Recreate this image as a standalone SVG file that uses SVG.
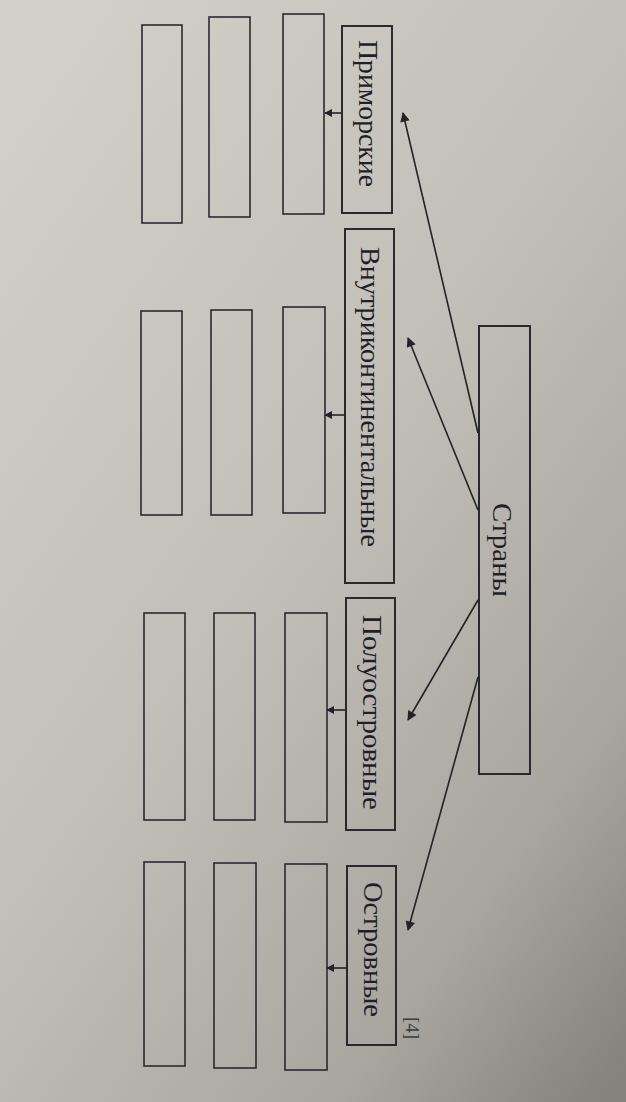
<svg xmlns="http://www.w3.org/2000/svg" width="626" height="1102" viewBox="0 0 626 1102">
  <defs>
    <linearGradient id="bg" x1="0.15" y1="0" x2="0.95" y2="1">
      <stop offset="0" stop-color="#d2cfc8"/>
      <stop offset="0.45" stop-color="#c2bfb8"/>
      <stop offset="0.8" stop-color="#a9a6a0"/>
      <stop offset="1" stop-color="#86837f"/>
    </linearGradient>
    <marker id="ah" viewBox="0 0 10 10" refX="9" refY="5" markerWidth="7" markerHeight="6" markerUnits="strokeWidth" orient="auto">
      <path d="M0,0 L10,5 L0,10 z" fill="#222228"/>
    </marker>
    <marker id="sh" viewBox="0 0 10 10" refX="9" refY="5" markerWidth="5" markerHeight="5" markerUnits="strokeWidth" orient="auto">
      <path d="M0,0 L10,5 L0,10 z" fill="#222228"/>
    </marker>
  </defs>
  <style>
    .box { fill: none; stroke: #222228; stroke-width: 1.9; }
    .ebox { fill: none; stroke: #2a2a30; stroke-width: 1.6; }
    .lbl { font-family: "Liberation Serif", "Times New Roman", serif; font-size: 27px; fill: #1f1f28; text-anchor: middle; }
    .conn { stroke: #222228; stroke-width: 1.6; fill: none; marker-end: url(#ah); }
    .sconn { stroke: #222228; stroke-width: 1.6; fill: none; marker-end: url(#sh); }
  </style>
  <rect x="0" y="0" width="626" height="1102" fill="url(#bg)"/>

  <g id="connectors">
    <line class="conn" x1="478" y1="433" x2="403" y2="113"/>
    <line class="conn" x1="478" y1="510" x2="408" y2="338"/>
    <line class="conn" x1="478" y1="600" x2="408" y2="720"/>
    <line class="conn" x1="478" y1="677" x2="408" y2="930"/>
    <line class="sconn" x1="342" y1="113" x2="325" y2="113"/>
    <line class="sconn" x1="345" y1="415" x2="325" y2="415"/>
    <line class="sconn" x1="346" y1="710" x2="327" y2="710"/>
    <line class="sconn" x1="347" y1="968" x2="327" y2="968"/>
  </g>

  <g id="node-strany">
    <rect class="box" x="479" y="326" width="51" height="448"/>
    <text class="lbl" transform="translate(493,550) rotate(90)" textLength="94" lengthAdjust="spacingAndGlyphs">Страны</text>
  </g>
  <g id="node-primorskie">
    <rect class="box" x="342" y="26" width="50" height="187"/>
    <text class="lbl" transform="translate(359,113.5) rotate(90)" textLength="147" lengthAdjust="spacingAndGlyphs">Приморские</text>
  </g>
  <g id="node-vnutri">
    <rect class="box" x="345" y="229" width="49" height="354"/>
    <text class="lbl" transform="translate(361,397) rotate(90)" textLength="300" lengthAdjust="spacingAndGlyphs">Внутриконтинентальные</text>
  </g>
  <g id="node-poluostr">
    <rect class="box" x="346" y="598" width="49" height="232"/>
    <text class="lbl" transform="translate(363,712.5) rotate(90)" textLength="195" lengthAdjust="spacingAndGlyphs">Полуостровные</text>
  </g>
  <g id="node-ostrov">
    <rect class="box" x="347" y="866" width="49" height="179"/>
    <text class="lbl" transform="translate(364,949.5) rotate(90)" textLength="135" lengthAdjust="spacingAndGlyphs">Островные</text>
  </g>

  <g id="empty-row1">
    <rect class="ebox" x="142" y="25" width="40" height="198"/>
    <rect class="ebox" x="209" y="17" width="41" height="200"/>
    <rect class="ebox" x="283" y="14" width="41" height="200"/>
  </g>
  <g id="empty-row2">
    <rect class="ebox" x="141" y="311" width="41" height="204"/>
    <rect class="ebox" x="211" y="310" width="41" height="205"/>
    <rect class="ebox" x="283" y="307" width="42" height="206"/>
  </g>
  <g id="empty-row3">
    <rect class="ebox" x="144" y="613" width="41" height="207"/>
    <rect class="ebox" x="214" y="613" width="41" height="207"/>
    <rect class="ebox" x="285" y="613" width="42" height="209"/>
  </g>
  <g id="empty-row4">
    <rect class="ebox" x="144" y="862" width="41" height="204"/>
    <rect class="ebox" x="214" y="863" width="42" height="205"/>
    <rect class="ebox" x="285" y="864" width="42" height="206"/>
  </g>

  <text transform="translate(406,1028) rotate(90)" font-family="Liberation Serif, serif" font-size="19" fill="#3a3a40" text-anchor="middle">[4]</text>
</svg>
